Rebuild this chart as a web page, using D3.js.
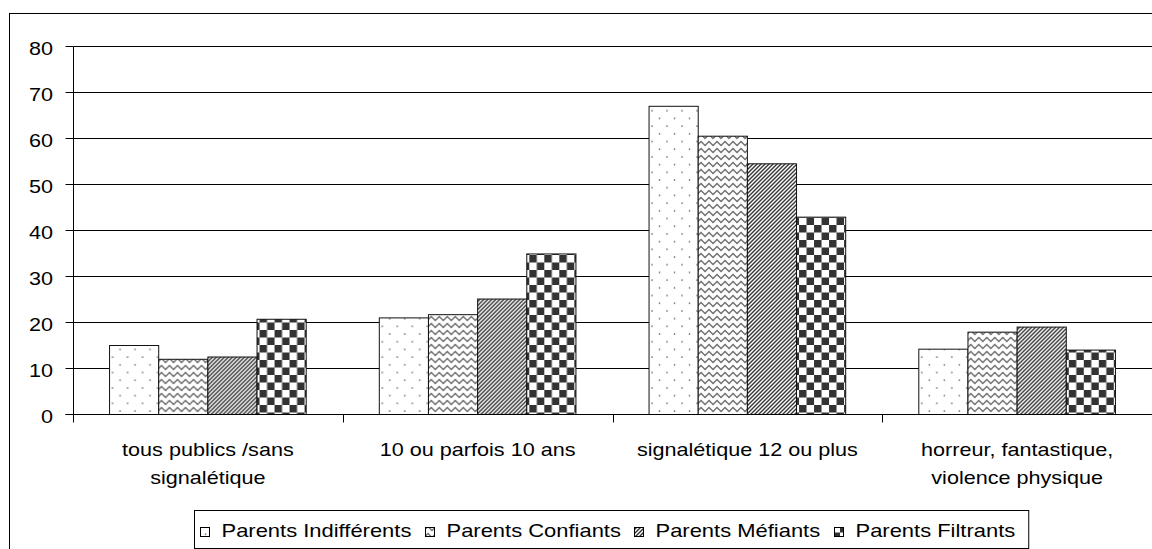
<!DOCTYPE html>
<html>
<head>
<meta charset="utf-8">
<script src="https://cdn.jsdelivr.net/npm/d3@7"></script>
<style>
  html, body { margin: 0; padding: 0; background: #fff; }
  svg { display: block; }
  text { font-family: "Liberation Sans", Arial, sans-serif; fill: #000; }
</style>
</head>
<body>
<svg id="chart" width="1152" height="549"></svg>
<script>
// ---- data ----
const categories = [
  "tous publics /sans signalétique",
  "10 ou parfois 10 ans",
  "signalétique 12 ou plus",
  "horreur, fantastique, violence physique"
];
const categoryLines = [
  ["tous publics /sans", "signalétique"],
  ["10 ou parfois 10 ans"],
  ["signalétique 12 ou plus"],
  ["horreur, fantastique,", "violence physique"]
];
const seriesNames = ["Parents Indifférents", "Parents Confiants", "Parents Méfiants", "Parents Filtrants"];
const indifferents = [15, 21, 67, 14.2];
const confiants    = [12, 21.7, 60.5, 17.9];
const mefiants     = [12.5, 25.1, 54.5, 19];
const filtrants    = [20.7, 34.9, 42.9, 14];
const yTicks = [0, 10, 20, 30, 40, 50, 60, 70, 80];

const seriesValues = [indifferents, confiants, mefiants, filtrants];
const patternIds = ["pDots", "pWaves", "pDiag", "pCheck"];

// ---- layout ----
const plot = { left: 73.5, right: 1152, top: 46.5, bottom: 414.5 };
const FS = 18, SX = 1.2, SXL = 1.22;

const svg = d3.select("#chart");

// patterns
const defs = svg.append("defs");
{
  const p = defs.append("pattern").attr("id", "pDots").attr("patternUnits", "userSpaceOnUse")
    .attr("width", 15).attr("height", 15.4);
  p.append("rect").attr("width", 15).attr("height", 15.4).attr("fill", "#fff");
  p.append("circle").attr("cx", 3).attr("cy", 3).attr("r", 0.8).attr("fill", "#555");
  p.append("circle").attr("cx", 10.5).attr("cy", 10.7).attr("r", 0.8).attr("fill", "#555");
}
{
  const p = defs.append("pattern").attr("id", "pWaves").attr("patternUnits", "userSpaceOnUse")
    .attr("width", 8).attr("height", 7);
  p.append("rect").attr("width", 8).attr("height", 7).attr("fill", "#fff");
  p.append("path").attr("d", "M-2,3.5 L0,5.5 L2,3.5 L4,1.5 L6,3.5 L8,5.5 L10,3.5")
    .attr("fill", "none").attr("stroke", "#6a6a6a").attr("stroke-width", 1.3);
}
{
  const p = defs.append("pattern").attr("id", "pDiag").attr("patternUnits", "userSpaceOnUse")
    .attr("width", 4).attr("height", 4);
  p.append("rect").attr("width", 4).attr("height", 4).attr("fill", "#fff");
  p.append("path").attr("d", "M-1,1 L1,-1 M0,4 L4,0 M3,5 L5,3")
    .attr("stroke", "#333").attr("stroke-width", 1.4);
}
{
  const p = defs.append("pattern").attr("id", "pCheck").attr("patternUnits", "userSpaceOnUse")
    .attr("width", 15).attr("height", 15);
  p.append("rect").attr("width", 15).attr("height", 15).attr("fill", "#fff");
  p.append("rect").attr("x", 0).attr("y", 0).attr("width", 7.5).attr("height", 7.5).attr("fill", "#333");
  p.append("rect").attr("x", 7.5).attr("y", 7.5).attr("width", 7.5).attr("height", 7.5).attr("fill", "#333");
}

// outer border (extends past the frame right/bottom)
svg.append("rect").attr("x", 9.5).attr("y", 13.5).attr("width", 1300).attr("height", 700)
  .attr("fill", "none").attr("stroke", "#000").attr("stroke-width", 1);

// scales
const x0 = d3.scaleBand().domain(categories).range([73, plot.right])
  .paddingInner(0.271).paddingOuter(0.1355);
const x1 = d3.scaleBand().domain(seriesNames).range([0, x0.bandwidth()]);
const y = d3.scaleLinear().domain([0, 80]).range([plot.bottom, plot.top]);

// gridlines
svg.append("g").selectAll("line").data(yTicks.filter(d => d > 0)).join("line")
  .attr("x1", plot.left).attr("x2", plot.right)
  .attr("y1", d => y(d)).attr("y2", d => y(d))
  .attr("stroke", "#000").attr("stroke-width", 1);

// bars
const groups = svg.append("g").selectAll("g").data(categories).join("g")
  .attr("transform", d => `translate(${x0(d)},0)`);
groups.selectAll("rect").data((c, ci) => seriesNames.map((s, si) => ({ s, si, v: seriesValues[si][ci] })))
  .join("rect")
  .attr("x", d => x1(d.s))
  .attr("y", d => y(d.v))
  .attr("width", x1.bandwidth())
  .attr("height", d => plot.bottom - y(d.v))
  .attr("fill", d => `url(#${patternIds[d.si]})`)
  .attr("stroke", "#111").attr("stroke-width", 1);

// y axis
const yAxis = svg.append("g");
yAxis.append("line").attr("x1", plot.left).attr("x2", plot.left)
  .attr("y1", plot.top).attr("y2", plot.bottom).attr("stroke", "#000");
yAxis.selectAll("line.tick").data(yTicks).join("line").attr("class", "tick")
  .attr("x1", plot.left - 8).attr("x2", plot.left)
  .attr("y1", d => y(d)).attr("y2", d => y(d)).attr("stroke", "#000");
yAxis.selectAll("text").data(yTicks).join("text")
  .attr("transform", d => `translate(53,${y(d) + 8}) scale(${SX},1)`)
  .attr("text-anchor", "end").attr("font-size", FS)
  .text(d => d);

// x axis
const xAxis = svg.append("g");
xAxis.append("line").attr("x1", plot.left - 8).attr("x2", plot.right)
  .attr("y1", plot.bottom).attr("y2", plot.bottom).attr("stroke", "#000");
const step = x0.step();
const tickXs = d3.range(categories.length + 1).map(i => x0(categories[0]) - x0.paddingOuter() * step + i * step);
xAxis.selectAll("line.tick").data(tickXs).join("line").attr("class", "tick")
  .attr("x1", d => Math.round(d) + 0.5).attr("x2", d => Math.round(d) + 0.5)
  .attr("y1", plot.bottom).attr("y2", plot.bottom + 8).attr("stroke", "#000");
categories.forEach((c, i) => {
  const cx = x0(c) + x0.bandwidth() / 2;
  categoryLines[i].forEach((line, li) => {
    xAxis.append("text")
      .attr("transform", `translate(${cx},${456 + li * 28}) scale(${SX},1)`)
      .attr("text-anchor", "middle").attr("font-size", FS)
      .text(line);
  });
});

// legend
const leg = svg.append("g");
const items = leg.selectAll("g").data(seriesNames).join("g");
items.append("rect").attr("class", "sym")
  .attr("width", 9).attr("height", 9).attr("y", 527.5)
  .attr("fill", (d, i) => `url(#${patternIds[i]})`).attr("stroke", "#000");
const texts = items.append("text").attr("font-size", FS).text(d => d);
let cursor = 0;
const offsets = [];
texts.each(function (d, i) {
  offsets.push(cursor);
  cursor += 21 + this.getComputedTextLength() * SXL + (i < seriesNames.length - 1 ? 14 : 0);
});
const legW = cursor + 19;
const legCx = 611;
const legX = Math.round(legCx - legW / 2) + 0.5;
leg.insert("rect", ":first-child").attr("x", legX).attr("y", 510.5).attr("width", legW).attr("height", 38)
  .attr("fill", "#fff").attr("stroke", "#000");
items.each(function (d, i) {
  const g = d3.select(this);
  const sx = Math.round(legX + 5 + offsets[i]) + 0.5;
  g.select("rect.sym").attr("x", sx);
  g.select("text").attr("transform", `translate(${sx + 21},537) scale(${SXL},1)`);
});
</script>
</body>
</html>
